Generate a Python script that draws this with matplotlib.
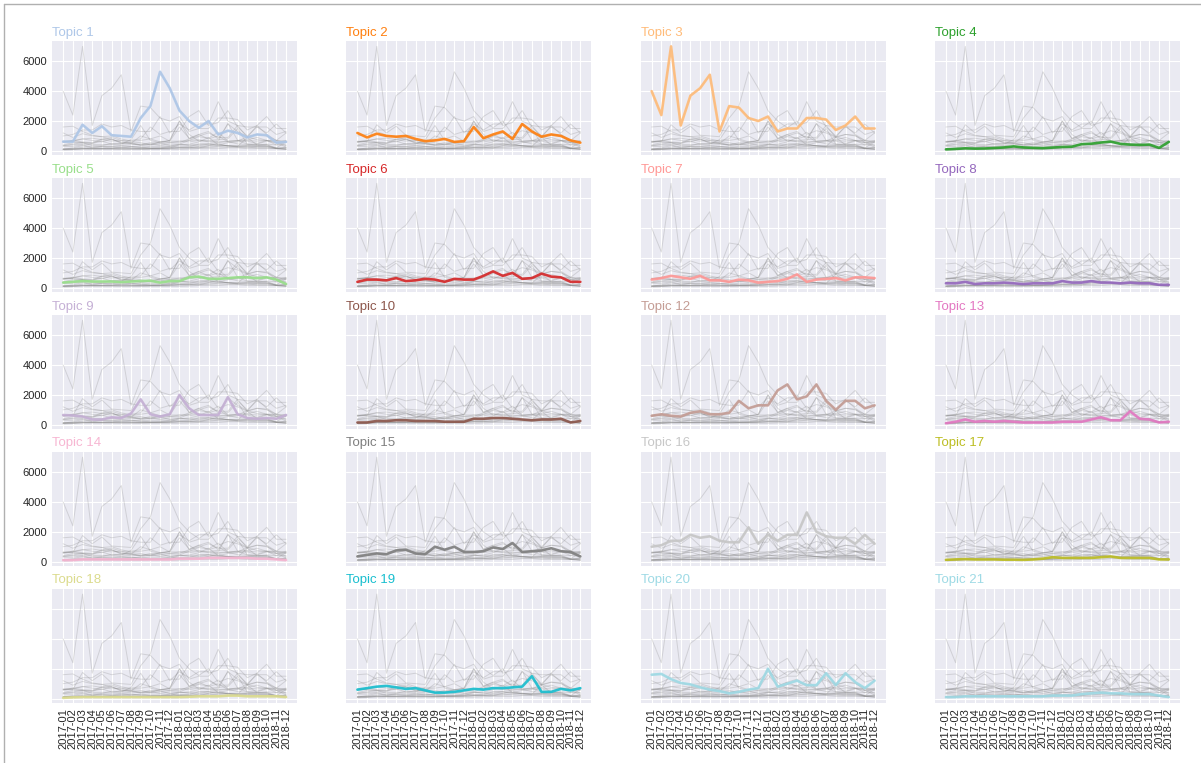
import matplotlib
matplotlib.use('Agg')
import matplotlib.pyplot as plt
from matplotlib.lines import Line2D

months = ['2017-01', '2017-02', '2017-03', '2017-04', '2017-05', '2017-06',
          '2017-07', '2017-08', '2017-09', '2017-10', '2017-11', '2017-12',
          '2018-01', '2018-02', '2018-03', '2018-04', '2018-05', '2018-06',
          '2018-07', '2018-08', '2018-09', '2018-10', '2018-11', '2018-12']

topic_1 = [620, 620, 1750, 1200, 1650, 1050, 1000, 950, 2200, 3000, 5300, 4200,
           2700, 2000, 1550, 2000, 1100, 1350, 1200, 900, 1100, 1050, 550, 600]
topic_2 = [1200, 900, 1150, 1000, 950, 1000, 800, 650, 700, 800, 600, 650,
           1600, 850, 1100, 1300, 800, 1800, 1300, 950, 1100, 1000, 700, 550]
topic_3 = [4000, 2400, 7000, 1700, 3700, 4200, 5100, 1300, 3000, 2900, 2200, 2000,
           2300, 1300, 1500, 1500, 2200, 2200, 2100, 1400, 1700, 2300, 1500, 1500]
topic_4 = [100, 130, 170, 150, 160, 190, 230, 300, 230, 200, 180, 220,
           260, 280, 450, 480, 560, 620, 470, 420, 400, 420, 200, 600]
topic_5 = [350, 400, 450, 420, 420, 420, 380, 420, 450, 470, 350, 450,
           450, 700, 750, 600, 600, 650, 700, 700, 650, 700, 550, 250]
topic_6 = [400, 550, 550, 500, 650, 450, 500, 600, 550, 400, 600, 550,
           550, 800, 1100, 800, 1000, 600, 650, 950, 750, 700, 400, 400]
topic_7 = [550, 650, 800, 700, 600, 800, 500, 500, 400, 550, 500, 350,
           400, 450, 600, 900, 400, 550, 600, 650, 500, 700, 700, 650]
topic_8 = [300, 300, 400, 250, 300, 300, 350, 300, 250, 300, 300, 300,
           450, 350, 350, 450, 350, 350, 300, 350, 300, 300, 200, 200]
topic_9 = [650, 620, 550, 350, 350, 500, 450, 750, 1700, 700, 550, 700,
           2000, 1100, 650, 650, 650, 1850, 700, 450, 400, 450, 400, 650]
topic_10 = [150, 150, 250, 250, 300, 300, 250, 250, 250, 200, 200, 200,
            400, 400, 450, 450, 400, 350, 300, 350, 350, 400, 150, 250]
topic_12 = [600, 700, 600, 550, 800, 900, 700, 700, 800, 1600, 1100, 1300,
            1300, 2300, 2700, 1700, 1900, 2700, 1600, 1000, 1600, 1600, 1100, 1300]
topic_13 = [100, 200, 350, 200, 250, 200, 250, 200, 150, 150, 150, 150,
            200, 200, 200, 350, 500, 300, 300, 900, 400, 350, 150, 200]
topic_14 = [100, 100, 150, 150, 150, 150, 150, 150, 150, 150, 150, 150,
            200, 200, 200, 250, 250, 250, 250, 250, 200, 200, 150, 100]
topic_15 = [350, 450, 550, 500, 750, 800, 550, 500, 1000, 800, 1000, 650,
            650, 700, 950, 850, 1250, 650, 700, 750, 900, 700, 650, 350]
topic_16 = [1000, 1100, 1400, 1400, 1800, 1600, 1700, 1400, 1300, 1300, 2300, 1200,
            1800, 1400, 1800, 1800, 3300, 2000, 1700, 1600, 1600, 1200, 1800, 1200]
topic_17 = [120, 150, 170, 150, 150, 150, 130, 130, 120, 150, 200, 300,
            250, 250, 250, 250, 300, 350, 250, 250, 250, 250, 150, 150]
topic_18 = [50, 80, 100, 100, 100, 100, 100, 100, 100, 100, 100, 100,
            100, 120, 150, 150, 150, 200, 200, 150, 150, 150, 150, 100]
topic_19 = [600, 700, 800, 850, 750, 650, 700, 550, 400, 400, 450, 550,
            650, 600, 700, 700, 750, 800, 1500, 450, 450, 650, 550, 700]
topic_20 = [1600, 1650, 1300, 1050, 950, 750, 600, 500, 350, 450, 600, 700,
            2000, 800, 1000, 1200, 900, 900, 1700, 900, 1700, 1100, 700, 1200]
topic_21 = [100, 100, 150, 150, 150, 150, 150, 150, 150, 150, 150, 200,
            200, 200, 300, 350, 400, 350, 350, 300, 300, 300, 200, 100]

names = ['Topic 1', 'Topic 2', 'Topic 3', 'Topic 4', 'Topic 5', 'Topic 6',
         'Topic 7', 'Topic 8', 'Topic 9', 'Topic 10', 'Topic 12', 'Topic 13',
         'Topic 14', 'Topic 15', 'Topic 16', 'Topic 17', 'Topic 18', 'Topic 19',
         'Topic 20', 'Topic 21']
series = [topic_1, topic_2, topic_3, topic_4, topic_5, topic_6, topic_7, topic_8,
          topic_9, topic_10, topic_12, topic_13, topic_14, topic_15, topic_16,
          topic_17, topic_18, topic_19, topic_20, topic_21]

plt.style.use('seaborn-v0_8-darkgrid')
plt.rcParams['font.family'] = ['Liberation Sans', 'DejaVu Sans']
palette = plt.get_cmap('tab20')

fig = plt.figure(figsize=(12.01, 7.63), dpi=100)

num = 0
for name, values in zip(names, series):
    num += 1
    plt.subplot(5, 4, num)
    for other in series:
        plt.plot(months, other, marker='', color='grey', linewidth=0.7, alpha=0.25)
    plt.plot(months, values, marker='', color=palette(num), linewidth=1.9, alpha=0.9)
    plt.tick_params(labelsize=8)
    if num < 17:
        plt.tick_params(labelbottom=False)
    else:
        plt.xticks(rotation=90)
    if num not in [1, 5, 9, 13]:
        plt.tick_params(labelleft=False)
    plt.title(name, loc='left', fontsize=9.5, fontweight=0, color=palette(num), pad=4)

plt.subplots_adjust(left=0.0433, right=0.9825, top=0.946, bottom=0.0786,
                    wspace=0.2, hspace=0.2)

# screenshot frame on left and top
fig.add_artist(Line2D([4 / 1201, 4 / 1201], [0, 1 - 4 / 763], color='#b0b0b0', lw=1))
fig.add_artist(Line2D([4 / 1201, 1], [1 - 4 / 763, 1 - 4 / 763], color='#b0b0b0', lw=1))

plt.savefig('out.png', dpi=100)
